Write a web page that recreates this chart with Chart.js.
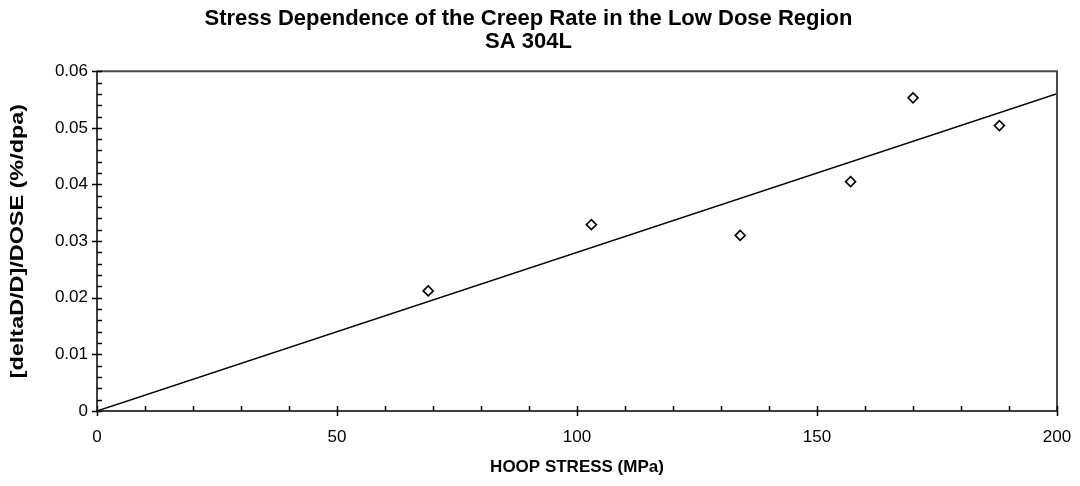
<!DOCTYPE html>
<html lang="en">
<head>
<meta charset="UTF-8" />
<title>Stress Dependence of the Creep Rate</title>
<script src="https://cdn.jsdelivr.net/npm/chart.js"></script>
<style>
  html, body { margin: 0; padding: 0; background: #fff; overflow: hidden; }
  .chart-box { width: 1080px; height: 486px; }
</style>
</head>
<body>
<div class="chart-box"><canvas id="creepChart"></canvas></div>
<script>
  // measured creep rate vs hoop stress, SA 304L
  const hoopStress = [69, 103, 134, 157, 170, 188];
  const creepRate = [0.0212, 0.0329, 0.0310, 0.0405, 0.0553, 0.0504];
  const xTicks = [0, 50, 100, 150, 200];
  const yTicks = [0, 0.01, 0.02, 0.03, 0.04, 0.05, 0.06];
  const yTitle = '[deltaD/D]/DOSE (%/dpa)';

  // straight-line fit forced through the origin (least squares)
  let sxy = 0, sxx = 0;
  hoopStress.forEach((x, i) => { sxy += x * creepRate[i]; sxx += x * x; });
  const slope = sxy / sxx;
  const trendX = [0, 200];

  const FONT = "'Liberation Sans', Arial, sans-serif";

  // axis lines, frame and tick marks (major ticks cross the axis, minor point inward)
  const axisTicks = {
    id: 'axisTicks',
    afterDraw(chart) {
      const { ctx, chartArea: a, scales: { x, y } } = chart;
      ctx.save();
      ctx.lineWidth = 2;
      ctx.strokeStyle = '#4a4a4a';
      ctx.beginPath();
      ctx.moveTo(a.left, a.top);
      ctx.lineTo(a.right, a.top);
      ctx.lineTo(a.right, a.bottom);
      ctx.stroke();

      ctx.lineWidth = 1.5;
      ctx.strokeStyle = '#000';
      ctx.beginPath();
      ctx.moveTo(a.left, a.top);
      ctx.lineTo(a.left, a.bottom);
      ctx.lineTo(a.right, a.bottom);
      for (let v = 0; v <= 200; v += 10) {
        const px = Math.round(x.getPixelForValue(v)) + 0.5;
        const major = v % 50 === 0;
        ctx.moveTo(px, a.bottom + (major ? 5 : 0));
        ctx.lineTo(px, a.bottom - 5);
      }
      for (let i = 0; i <= 30; i++) {
        const py = Math.round(y.getPixelForValue(i * 0.002)) + 0.5;
        const major = i % 5 === 0;
        ctx.moveTo(a.left - (major ? 5 : 0), py);
        ctx.lineTo(a.left + 5, py);
      }
      ctx.stroke();

      // rotated y axis title, stretched along its length
      ctx.translate(18, (a.top + a.bottom) / 2);
      ctx.rotate(-Math.PI / 2);
      ctx.scale(1.3, 1);
      ctx.font = 'bold 18px ' + FONT;
      ctx.fillStyle = '#000';
      ctx.textAlign = 'center';
      ctx.textBaseline = 'middle';
      ctx.fillText(yTitle, 0, 0);
      ctx.restore();
    }
  };

  const ctx = document.getElementById('creepChart').getContext('2d');
  new Chart(ctx, {
    type: 'scatter',
    data: {
      datasets: [
        {
          label: 'Measured',
          data: hoopStress.map((x, i) => ({ x, y: creepRate[i] })),
          pointStyle: 'rectRot',
          pointRadius: 5,
          pointBorderWidth: 1.6,
          pointBorderColor: '#000',
          pointBackgroundColor: '#fff',
          order: 0
        },
        {
          label: 'Linear fit',
          type: 'line',
          data: trendX.map(x => ({ x, y: slope * x })),
          borderColor: '#000',
          borderWidth: 1.5,
          pointRadius: 0,
          fill: false,
          order: 1
        }
      ]
    },
    options: {
      responsive: true,
      maintainAspectRatio: false,
      animation: false,
      layout: { padding: { left: 0, right: 23, top: 0, bottom: 0 } },
      plugins: {
        legend: { display: false },
        tooltip: { enabled: false },
        title: {
          display: true,
          text: ['Stress Dependence of the Creep Rate in the Low Dose Region', 'SA 304L'],
          color: '#000',
          font: { family: FONT, size: 22, weight: 'bold', lineHeight: 1.05 },
          padding: { top: 7, bottom: 18 }
        }
      },
      scales: {
        x: {
          type: 'linear',
          min: 0,
          max: 200,
          afterBuildTicks: s => { s.ticks = xTicks.map(value => ({ value })); },
          afterFit: s => { s.height = 75; s.paddingLeft = 0; s.paddingRight = 0; },
          grid: { display: false, drawTicks: false },
          border: { display: false },
          ticks: { color: '#000', padding: 16, font: { family: FONT, size: 17 } },
          title: {
            display: true,
            text: 'HOOP STRESS (MPa)',
            color: '#000',
            font: { family: FONT, size: 17, weight: 'bold' },
            padding: { top: 0, bottom: 8 }
          }
        },
        y: {
          type: 'linear',
          min: 0,
          max: 0.06,
          afterBuildTicks: s => { s.ticks = yTicks.map(value => ({ value })); },
          afterFit: s => { s.width = 97; },
          grid: { display: false, drawTicks: false },
          border: { display: false },
          ticks: {
            color: '#000',
            padding: 9,
            font: { family: FONT, size: 17 },
            callback: v => (v === 0 ? '0' : v.toFixed(2))
          }
        }
      }
    },
    plugins: [axisTicks]
  });
</script>
</body>
</html>
